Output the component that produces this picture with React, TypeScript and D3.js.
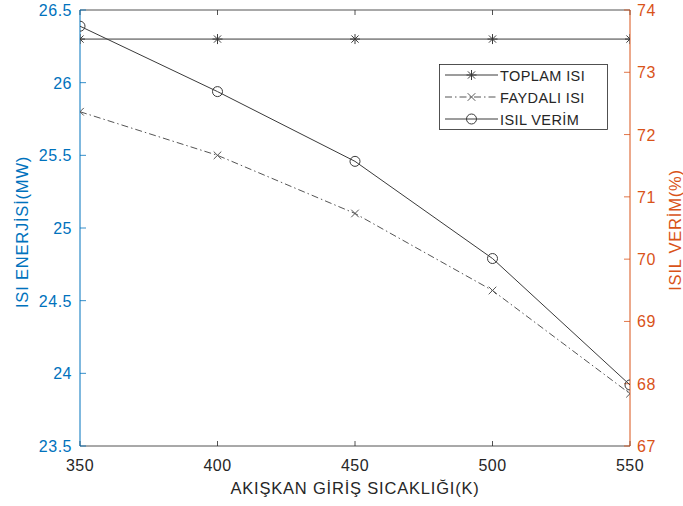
import React, { useEffect, useRef } from 'react';
import * as d3 from 'd3';

// Data
const temps = [350, 400, 450, 500, 550];
const toplamIsi = [26.3, 26.3, 26.3, 26.3, 26.3];
const faydaliIsi = [25.8, 25.5, 25.1, 24.57, 23.86];
const isilVerim = [73.74, 72.69, 71.57, 70.01, 67.98];

const xTicks = [350, 400, 450, 500, 550];
const leftTicks = [23.5, 24, 24.5, 25, 25.5, 26, 26.5];
const rightTicks = [67, 68, 69, 70, 71, 72, 73, 74];

const BLUE = '#0072BD';
const ORANGE = '#D95319';
const INK = '#262626';
const FONT = '"Liberation Sans", Arial, Helvetica, sans-serif';

export default function App() {
  const svgRef = useRef<SVGSVGElement | null>(null);

  useEffect(() => {
    if (!svgRef.current) return;
    document.body.style.margin = '0';
    const svg = d3.select(svgRef.current);
    svg.selectAll('*').remove();

    const left = 80, right = 630, top = 10, bottom = 446;

    const x = d3.scaleLinear().domain([350, 550]).range([left, right]);
    const yL = d3.scaleLinear().domain([23.5, 26.5]).range([bottom, top]);
    const yR = d3.scaleLinear().domain([67, 74]).range([bottom, top]);

    svg.append('rect').attr('width', 683).attr('height', 506).attr('fill', '#fff');

    const defs = svg.append('defs');
    defs.append('clipPath').attr('id', 'plotClip')
      .append('rect')
      .attr('x', left).attr('y', top)
      .attr('width', right - left).attr('height', bottom - top);

    const tickText = (sel: d3.Selection<SVGTextElement, unknown, null, undefined>) =>
      sel.style('font-family', FONT).style('font-size', '16px').style('letter-spacing', '0.5px');
    const labelText = (sel: d3.Selection<SVGTextElement, unknown, null, undefined>) =>
      sel.style('font-family', FONT).style('font-size', '16.5px').style('letter-spacing', '0.8px');

    // box: top & bottom
    svg.append('line').attr('x1', left).attr('x2', right).attr('y1', top).attr('y2', top)
      .attr('stroke', INK).attr('stroke-width', 0.8);
    svg.append('line').attr('x1', left).attr('x2', right).attr('y1', bottom).attr('y2', bottom)
      .attr('stroke', INK).attr('stroke-width', 0.8);

    // x ticks (inward, top and bottom)
    xTicks.forEach(t => {
      svg.append('line').attr('x1', x(t)).attr('x2', x(t)).attr('y1', bottom).attr('y2', bottom - 5)
        .attr('stroke', INK).attr('stroke-width', 0.8);
      svg.append('line').attr('x1', x(t)).attr('x2', x(t)).attr('y1', top).attr('y2', top + 5)
        .attr('stroke', INK).attr('stroke-width', 0.8);
      tickText(svg.append('text').attr('x', x(t)).attr('y', 471)
        .attr('text-anchor', 'middle').attr('fill', INK)
        .text(String(t)));
    });

    // left axis
    svg.append('line').attr('x1', left).attr('x2', left).attr('y1', top).attr('y2', bottom)
      .attr('stroke', BLUE).attr('stroke-width', 1);
    leftTicks.forEach(t => {
      svg.append('line').attr('x1', left).attr('x2', left + 6).attr('y1', yL(t)).attr('y2', yL(t))
        .attr('stroke', BLUE).attr('stroke-width', 0.8);
      tickText(svg.append('text').attr('x', left - 8).attr('y', yL(t) + 6)
        .attr('text-anchor', 'end').attr('fill', BLUE)
        .text(String(t)));
    });

    // right axis
    svg.append('line').attr('x1', right).attr('x2', right).attr('y1', top).attr('y2', bottom)
      .attr('stroke', ORANGE).attr('stroke-width', 1);
    rightTicks.forEach(t => {
      svg.append('line').attr('x1', right).attr('x2', right - 6).attr('y1', yR(t)).attr('y2', yR(t))
        .attr('stroke', ORANGE).attr('stroke-width', 0.8);
      tickText(svg.append('text').attr('x', right + 7).attr('y', yR(t) + 6)
        .attr('text-anchor', 'start').attr('fill', ORANGE)
        .text(String(t)));
    });

    // axis labels
    labelText(svg.append('text').attr('x', (left + right) / 2).attr('y', 494)
      .attr('text-anchor', 'middle').attr('fill', INK)
      .text('AKIŞKAN GİRİŞ SICAKLIĞI(K)'));
    labelText(svg.append('text')
      .attr('transform', `translate(28,${(top + bottom) / 2 + 4}) rotate(-90)`)
      .attr('text-anchor', 'middle').attr('fill', BLUE)
      .text('ISI ENERJİSİ(MW)'));
    labelText(svg.append('text')
      .attr('transform', `translate(681,${(top + bottom) / 2 + 2}) rotate(-90)`)
      .attr('text-anchor', 'middle').attr('fill', ORANGE)
      .text('ISIL VERİM(%)'));

    // markers
    const star = (g: d3.Selection<SVGGElement, unknown, null, undefined>, cx: number, cy: number, color: string) => {
      const s = 5;
      const d = s * 0.72;
      g.append('path')
        .attr('d', `M${cx - s},${cy}L${cx + s},${cy}M${cx},${cy - s}L${cx},${cy + s}M${cx - d},${cy - d}L${cx + d},${cy + d}M${cx - d},${cy + d}L${cx + d},${cy - d}`)
        .attr('stroke', color).attr('stroke-width', 1).attr('fill', 'none');
    };
    const cross = (g: d3.Selection<SVGGElement, unknown, null, undefined>, cx: number, cy: number, color: string) => {
      const s = 3.8;
      g.append('path')
        .attr('d', `M${cx - s},${cy - s}L${cx + s},${cy + s}M${cx - s},${cy + s}L${cx + s},${cy - s}`)
        .attr('stroke', color).attr('stroke-width', 1).attr('fill', 'none');
    };
    const circ = (g: d3.Selection<SVGGElement, unknown, null, undefined>, cx: number, cy: number, color: string) => {
      g.append('circle').attr('cx', cx).attr('cy', cy).attr('r', 5)
        .attr('stroke', color).attr('stroke-width', 1).attr('fill', 'none');
    };

    const plot = svg.append('g').attr('clip-path', 'url(#plotClip)');

    const series = [
      { name: 'TOPLAM ISI', vals: toplamIsi, y: yL, color: '#3a3a3a', dash: null as string | null, marker: star },
      { name: 'FAYDALI ISI', vals: faydaliIsi, y: yL, color: '#555555', dash: '7,3,1.5,3', marker: cross },
      { name: 'ISIL VERİM', vals: isilVerim, y: yR, color: '#3a3a3a', dash: null as string | null, marker: circ },
    ];

    series.forEach(s => {
      const line = d3.line<number>().x((_, i) => x(temps[i])).y(v => s.y(v));
      const p = plot.append('path').datum(s.vals)
        .attr('d', line).attr('fill', 'none')
        .attr('stroke', s.color).attr('stroke-width', 1);
      if (s.dash) p.attr('stroke-dasharray', s.dash);
      s.vals.forEach((v, i) => s.marker(plot, x(temps[i]), s.y(v), s.color));
    });

    // legend
    const lg = svg.append('g');
    lg.append('rect').attr('x', 439.5).attr('y', 64.5).attr('width', 168).attr('height', 65)
      .attr('fill', '#fff').attr('stroke', INK).attr('stroke-width', 0.8);
    series.forEach((s, i) => {
      const cy = 75 + i * 22;
      const l = lg.append('line').attr('x1', 445).attr('x2', 498).attr('y1', cy).attr('y2', cy)
        .attr('stroke', s.color).attr('stroke-width', 1);
      if (s.dash) l.attr('stroke-dasharray', s.dash);
      s.marker(lg, 471.5, cy, s.color);
      lg.append('text').attr('x', 500).attr('y', cy + 5.5)
        .attr('fill', INK)
        .style('font-family', FONT).style('font-size', '14.5px').style('letter-spacing', '0.4px')
        .text(s.name);
    });
  }, []);

  return (
    <svg
      ref={svgRef}
      width={683}
      height={506}
      style={{ display: 'block', position: 'absolute', left: 0, top: 0 }}
    />
  );
}
